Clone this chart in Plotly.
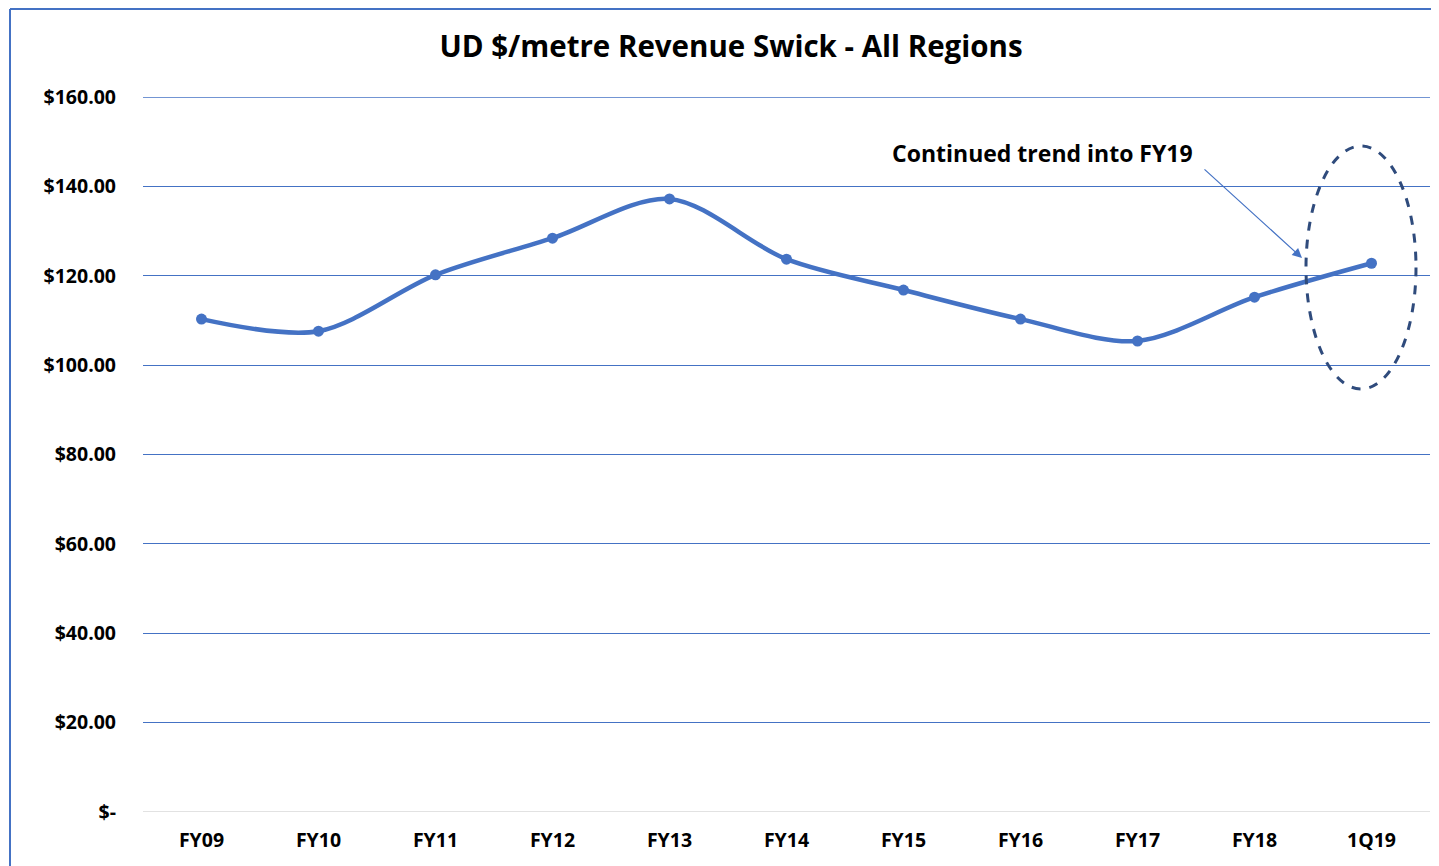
import plotly.graph_objects as go

categories = ["FY09", "FY10", "FY11", "FY12", "FY13", "FY14", "FY15", "FY16", "FY17", "FY18", "1Q19"]
revenue = [110.3, 107.6, 120.2, 128.4, 137.2, 123.7, 116.8, 110.3, 105.4, 115.2, 122.8]
y_ticks = [0, 20, 40, 60, 80, 100, 120, 140, 160]
y_ticktext = ["$-", "$20.00", "$40.00", "$60.00", "$80.00", "$100.00", "$120.00", "$140.00", "$160.00"]

title = "UD $/metre Revenue Swick - All Regions"
note = "Continued trend into FY19"

FONT = "'Open Sans', sans-serif"
BLUE = "#4472C4"

# page offset of 8px (body margin) compensated in margins
L, R, T, B = 135, 17, 89, 62
PW = 1439 - L - R
PH = 866 - T - B

def px_x(xpix):  # screen pixel -> category coordinate
    return (xpix - 8 - L) / PW * len(categories) - 0.5

def px_y(ypix):  # screen pixel -> data y
    return (866 - B - (ypix - 8)) / PH * 160

fig = go.Figure()
fig.add_trace(go.Scatter(
    x=list(range(len(categories))), y=revenue, mode="lines+markers",
    line=dict(color=BLUE, width=4.5, shape="spline", smoothing=0.9),
    marker=dict(color=BLUE, size=11),
    showlegend=False, hoverinfo="skip",
))

fig.update_layout(
    width=1439, height=866,
    margin=dict(l=L, r=R, t=T, b=B),
    paper_bgcolor="white", plot_bgcolor="white",
    font=dict(family=FONT, color="#000000"),
    title=dict(text="<b>" + title + "</b>", x=(731 - 8 - L) / PW, xref="paper", xanchor="center",
               y=1 - (47 - 8) / 866, yanchor="middle", font=dict(size=29.5, family=FONT)),
    xaxis=dict(
        tickmode="array", tickvals=list(range(len(categories))),
        ticktext=["<b>" + c + "</b>" for c in categories],
        range=[-0.5, len(categories) - 0.5], showgrid=False, zeroline=False,
        showline=False, ticks="", ticklabelstandoff=14,
        tickfont=dict(size=19.5, family=FONT),
    ),
    yaxis=dict(
        tickmode="array", tickvals=y_ticks,
        ticktext=["<b>" + t + "</b>" for t in y_ticktext],
        range=[0, 160], showgrid=True, gridcolor=BLUE, gridwidth=1.3,
        zeroline=False, showline=False, ticks="", ticklabelstandoff=26,
        tickfont=dict(size=19.5, family=FONT),
    ),
)

# top gridline (at range edge) and gray baseline at zero
fig.add_shape(type="line", xref="paper", yref="y", x0=0, x1=1, y0=y_ticks[-1], y1=y_ticks[-1],
              line=dict(color=BLUE, width=1.3), layer="below")
fig.add_shape(type="line", xref="paper", yref="y", x0=0, x1=1, y0=0, y1=0,
              line=dict(color="#D9D9D9", width=1.5), layer="above")
# outer chart border (left & top)
bx = (10 - 8 - L) / PW
by = (866 - B - 1) / PH
fig.add_shape(type="line", xref="paper", yref="paper", x0=bx, x1=bx, y0=-0.3, y1=by,
              line=dict(color=BLUE, width=2))
fig.add_shape(type="line", xref="paper", yref="paper", x0=bx, x1=1.2, y0=by, y1=by,
              line=dict(color=BLUE, width=2))

# dashed ellipse around last point
fig.add_shape(type="circle", xref="x", yref="y",
              x0=px_x(1306), x1=px_x(1416), y0=px_y(389), y1=px_y(146),
              line=dict(color="#2F4B7C", width=3, dash="dash"))

# annotation with arrow
fig.add_annotation(
    x=px_x(1302), y=px_y(258), xref="x", yref="y",
    ax=px_x(1203), ay=px_y(168), axref="x", ayref="y",
    showarrow=True, arrowhead=2, arrowsize=1.6, arrowwidth=1.2, arrowcolor=BLUE,
    text="", standoff=0,
)
fig.add_annotation(
    x=px_x(1042), y=px_y(153), xref="x", yref="y",
    text="<b>" + note + "</b>", showarrow=False, font=dict(size=23, family=FONT, color="#000"),
    xanchor="center", yanchor="middle",
)

fig.write_html("out.html")
